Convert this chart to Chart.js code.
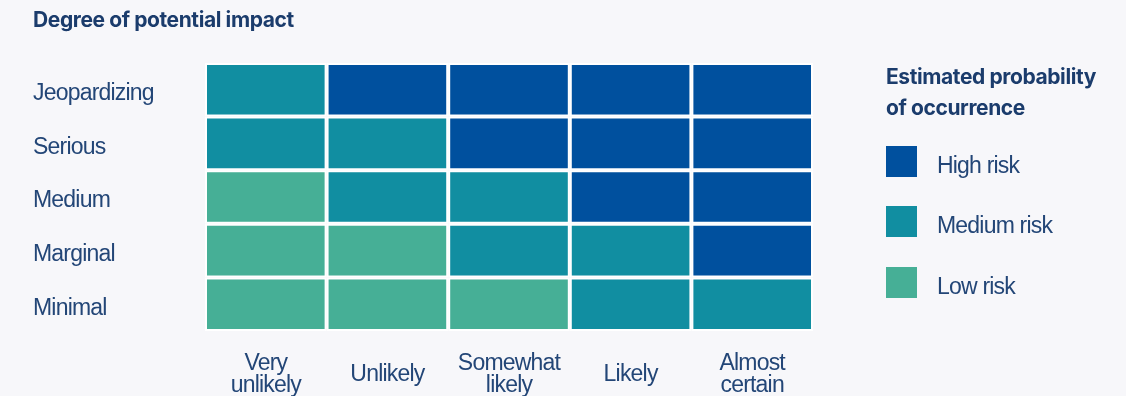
<!DOCTYPE html>
<html>
<head>
<meta charset="utf-8">
<script src="https://cdn.jsdelivr.net/npm/chart.js@4.4.1/dist/chart.umd.min.js"></script>
<style>
  html, body { margin:0; padding:0; background:#f7f7fa; }
  #wrap { position:relative; width:1126px; height:396px; overflow:hidden; }
  #chart { position:absolute; left:0; top:0; }
  .title { position:absolute; left:33px; top:8px; font-family: Inter, sans-serif; font-weight:700; font-size:21px; line-height:24px; color:#1b3c6c; letter-spacing:-0.4px; white-space:nowrap; }
  .legend-title { position:absolute; left:886px; top:61px; font-family: Inter, sans-serif; font-weight:700; font-size:21px; line-height:31px; color:#1b3c6c; letter-spacing:-0.4px; white-space:nowrap; }
  .lg-box { position:absolute; left:886px; width:31px; height:31px; }
  .lg-label { position:absolute; left:937px; font-family: "Liberation Sans", Arial, sans-serif; font-size:23px; line-height:31px; color:#234677; letter-spacing:-0.8px; white-space:nowrap; }
</style>
</head>
<body>
<div id="wrap">
  <canvas id="chart" width="1126" height="396"></canvas>
  <div class="title">Degree of potential impact</div>
  <div class="legend-title">Estimated probability<br>of occurrence</div>
  <div id="legend"></div>
</div>
<script>
// Columns: estimated probability of occurrence
const columns = [['Very', 'unlikely'], 'Unlikely', ['Somewhat', 'likely'], 'Likely', ['Almost', 'certain']];
// Rows: degree of potential impact (top to bottom)
const rows = ['Jeopardizing', 'Serious', 'Medium', 'Marginal', 'Minimal'];
// Risk levels and their colours
const riskLevels = ['High risk', 'Medium risk', 'Low risk'];
const riskColors = ['#00509e', '#118ea1', '#46af96'];
// Risk level (index into riskLevels) of every cell, one array per row
const rowJeopardizing = [1, 0, 0, 0, 0];
const rowSerious      = [1, 1, 0, 0, 0];
const rowMedium       = [2, 1, 1, 0, 0];
const rowMarginal     = [2, 2, 1, 1, 0];
const rowMinimal      = [2, 2, 2, 1, 1];
// Each cell occupies one unit of row height
const cellSize = [1, 1, 1, 1, 1];

const rowLevels = [rowJeopardizing, rowSerious, rowMedium, rowMarginal, rowMinimal];
const rowsBottomUp = rows.slice().reverse();
const levelsBottomUp = rowLevels.slice().reverse();

const datasets = rowsBottomUp.map((name, i) => ({
  label: name,
  data: cellSize.slice(),
  backgroundColor: levelsBottomUp[i].map(l => riskColors[l]),
  borderColor: '#ffffff',
  borderWidth: 2,
  borderSkipped: false,
  inflateAmount: 0,
  barPercentage: 1,
  categoryPercentage: 1
}));

// HTML legend
const legendEl = document.getElementById('legend');
const legendTops = [146, 206, 267];
riskLevels.forEach((lvl, i) => {
  const b = document.createElement('div');
  b.className = 'lg-box';
  b.style.top = legendTops[i] + 'px';
  b.style.background = riskColors[i];
  legendEl.appendChild(b);
  const t = document.createElement('div');
  t.className = 'lg-label';
  t.style.top = (legendTops[i] + 4) + 'px';
  t.textContent = lvl;
  legendEl.appendChild(t);
});

const textColor = '#234677';
const labelFont = { family: '"Liberation Sans", Arial, sans-serif', size: 23 };
// small downward nudge of the row labels relative to row centres (in row units)
const rowLabelNudge = 0.075;

const letterSpacingPlugin = {
  id: 'letterSpacing',
  beforeLayout(chart) { chart.ctx.letterSpacing = '-0.8px'; },
  beforeDraw(chart) { chart.ctx.letterSpacing = '-0.8px'; }
};

new Chart(document.getElementById('chart'), {
  type: 'bar',
  data: { labels: columns, datasets },
  plugins: [letterSpacingPlugin],
  options: {
    responsive: false,
    animation: false,
    events: [],
    layout: { padding: { left: 33, top: 63, right: 313, bottom: 0 } },
    plugins: { legend: { display: false }, title: { display: false }, tooltip: { enabled: false } },
    scales: {
      x: {
        stacked: true,
        grid: { display: false, drawTicks: false },
        border: { display: false },
        ticks: {
          color: textColor,
          font: Object.assign({ lineHeight: 0.935 }, labelFont),
          crossAlign: 'center',
          padding: 33,
          maxRotation: 0,
          autoSkip: false
        },
        afterFit: (s) => { s.height = 65; }
      },
      y: {
        stacked: true,
        min: 0,
        max: 5,
        grid: { display: false, drawTicks: false },
        border: { display: false },
        afterBuildTicks: (s) => { s.ticks = [0, 1, 2, 3, 4].map(i => ({ value: i + 0.5 - rowLabelNudge })); },
        ticks: {
          color: textColor,
          crossAlign: 'far',
          font: labelFont,
          callback: (v) => rowsBottomUp[Math.round(v + rowLabelNudge - 0.5)]
        },
        afterFit: (s) => { s.width = 172; }
      }
    }
  }
});
</script>
</body>
</html>
